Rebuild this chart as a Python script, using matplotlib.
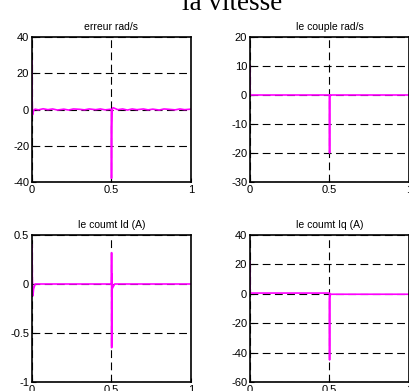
import matplotlib.pyplot as plt
import numpy as np

# donnees
t_err = [0, 0.001, 0.003, 0.006, 0.01, 0.02, 0.04, 0.07, 0.1, 0.13, 0.16, 0.2, 0.23, 0.26, 0.3, 0.33,
         0.36, 0.4, 0.43, 0.46, 0.49, 0.499, 0.5, 0.501, 0.503, 0.506, 0.51, 0.54, 0.57, 0.6, 0.63,
         0.66, 0.7, 0.73, 0.76, 0.8, 0.83, 0.86, 0.9, 0.93, 0.96, 1.0]
erreur = [27, 5, -3, -2, -0.5, 0.2, -0.2, 0.4, -0.1, 0.3, -0.3, 0.2, -0.3, 0.3, 0.1, -0.2,
          0.3, -0.1, 0.3, -0.2, 0.1, 0.0, -38, -10, -2, 0.5, 1.0, -0.1, 0.3, -0.3, 0.3,
          -0.1, 0.3, -0.2, 0.2, -0.3, 0.3, 0.1, -0.2, 0.3, -0.1, 0.2]

t_cpl = [0, 0.001, 0.002, 0.5, 0.5005, 0.501, 0.502, 1.0]
couple = [10, 1, 0, 0, -20, -1, 0, 0]

t_id = [0, 0.002, 0.006, 0.01, 0.02, 0.03, 0.5, 0.5005, 0.501, 0.502, 0.504, 0.51, 0.52, 1.0]
i_d = [0.4, 0.05, -0.12, -0.05, 0.0, 0.0, 0.0, 0.32, -0.65, 0.1, -0.05, -0.03, 0.0, 0.0]

t_iq = [0, 0.001, 0.002, 0.5, 0.5005, 0.501, 0.503, 1.0]
i_q = [22, 2, 0.5, 0.5, -45, -3, -0.3, -0.3]

fig = plt.figure(figsize=(4.1, 3.91), dpi=100)
W, H = 410, 391

def make_ax(x0, y0, x1, y1):
    return fig.add_axes([x0 / W, 1 - y1 / H, (x1 - x0) / W, (y1 - y0) / H])

mag = '#ff00ff'
panels = [
    ((32, 37, 191, 182), t_err, erreur, 'erreur rad/s', (-40, 40), [-40, -20, 0, 20, 40]),
    ((250, 37, 409, 182), t_cpl, couple, 'le couple rad/s', (-30, 20), [-30, -20, -10, 0, 10, 20]),
    ((32, 235, 191, 382), t_id, i_d, 'le coumt Id (A)', (-1, 0.5), [-1, -0.5, 0, 0.5]),
    ((250, 235, 409, 382), t_iq, i_q, 'le coumt Iq (A)', (-60, 40), [-60, -40, -20, 0, 20, 40]),
]

for box, x, y, titre, ylim, yt in panels:
    ax = make_ax(*box)
    ax.plot(x, y, color=mag, lw=1.2)
    ax.set_xlim(0, 1)
    ax.set_ylim(*ylim)
    ax.set_xticks([0, 0.5, 1])
    ax.set_xticklabels(['0', '0.5', '1'])
    ax.set_yticks(yt)
    ax.set_yticklabels(['%g' % v for v in yt])
    ax.grid(True, color='black', linestyle=(0, (7, 4)), lw=0.8)
    ax.tick_params(direction='in', length=3, labelsize=8, pad=2)
    for lab in ax.get_xticklabels() + ax.get_yticklabels():
        lab.set_family('Liberation Sans')
    for s in ax.spines.values():
        s.set_linewidth(1.2)
    ax.set_title(titre, fontsize=7.5, family='Liberation Sans', pad=5)

fig.text(232 / W, 1 - 10 / H, 'la vitesse', ha='center', va='baseline',
         fontsize=19.5, family='Liberation Serif')

fig.savefig('out.png', dpi=100)
